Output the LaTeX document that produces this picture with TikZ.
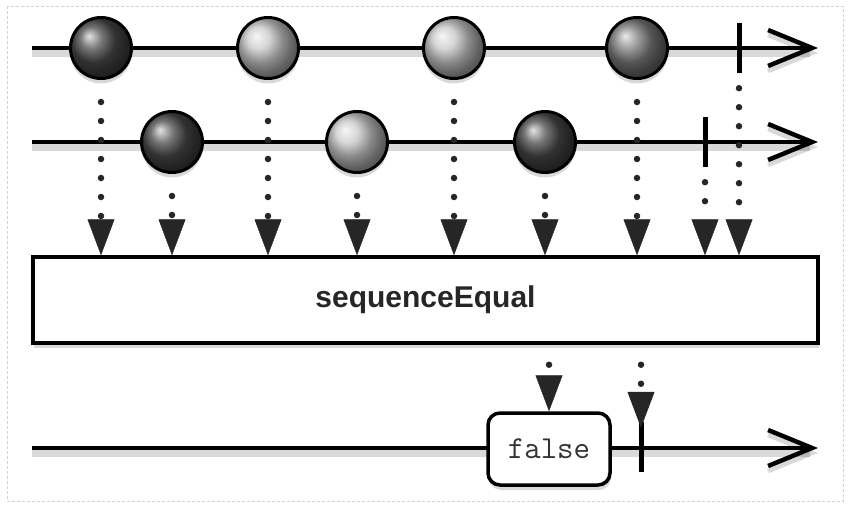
\documentclass[tikz,border=0pt]{standalone}
\usepackage{fontspec}
\setmainfont{Liberation Sans}
\usetikzlibrary{arrows.meta,shadows}
\begin{document}
\begin{tikzpicture}[x=1pt,y=-1pt,
  timeline/.style={line width=4pt, -{Straight Barb[length=44pt,width=36pt,line width=4.5pt]},
    preaction={draw=black, opacity=0.15, line width=8pt, transform canvas={yshift=-5pt}}},
  marble/.style={circle, draw=black, line width=3pt, minimum size=61pt, inner sep=0pt,
    drop shadow={opacity=0.3, shadow xshift=0pt, shadow yshift=-5pt}},
  darkm/.style={marble, ball color=black!72},
  lightm/.style={marble, ball color=black!22},
  midm/.style={marble, ball color=black!52},
  endmark/.style={rectangle, fill=black, minimum width=5pt, minimum height=50pt, inner sep=0pt},
  flow/.style={line width=6.5pt, line cap=round, dash pattern=on 0pt off 19pt,
    -{Triangle[length=36pt,width=27pt,line width=0.5pt]}, black!85},
  opbox/.style={draw, line width=3.5pt, fill=white, minimum width=785pt, minimum height=86pt,
    inner sep=0pt, text=black!85, font=\bfseries\fontsize{30}{36}\selectfont,
    drop shadow={opacity=0.3, shadow xshift=1pt, shadow yshift=-5pt}},
  valbox/.style={draw, line width=3.5pt, fill=white, rounded corners=12pt,
    minimum width=122pt, minimum height=72pt, inner sep=0pt, text=black!80,
    font=\ttfamily\fontsize{32}{36}\selectfont,
    drop shadow={opacity=0.3, shadow xshift=1pt, shadow yshift=-5pt}}
]
\useasboundingbox (0,0) rectangle (850,508);
\draw[gray!35, densely dashed, line width=0.6pt] (7,6) rectangle (843,501);

% timelines
\coordinate (l1s) at (32,48);  \coordinate (l1e) at (818,48);
\coordinate (l2s) at (32,142); \coordinate (l2e) at (818,142);
\coordinate (l3s) at (32,448); \coordinate (l3e) at (818,448);
\draw[timeline] (l1s) -- (l1e);
\draw[timeline] (l2s) -- (l2e);
\draw[timeline] (l3s) -- (l3e);

% operator box
\node[opbox] (op) at (425.5,300) {sequenceEqual};

% top row
\node[darkm]  (b1) at (101,48) {};
\node[lightm] (b2) at (268,48) {};
\node[lightm] (b3) at (454,48) {};
\node[midm]   (b4) at (637,48) {};
\node[endmark] (t1) at (739,48) {};

% second row
\node[darkm]  (c1) at (172,142) {};
\node[lightm] (c2) at (357,142) {};
\node[darkm]  (c3) at (545,142) {};
\node[endmark] (t2) at (705,142) {};

% input arrows
\foreach \n in {b1,b2,b3,b4,c1,c2,c3}
  \draw[flow, shorten <=22pt] (\n.south) -- (\n |- op.north);
\foreach \n in {t1,t2}
  \draw[flow, shorten <=15pt] (\n.south) -- (\n |- op.north);

% output
\node[valbox] (fv) at (549,449) {false};
\node[endmark] (t3) at (641,447) {};
\draw[flow, shorten <=20pt] (op.south -| fv) -- (fv.north);
\draw[flow, shorten <=20pt, shorten >=-6pt] (op.south -| t3) -- (t3.north);
\end{tikzpicture}
\end{document}
